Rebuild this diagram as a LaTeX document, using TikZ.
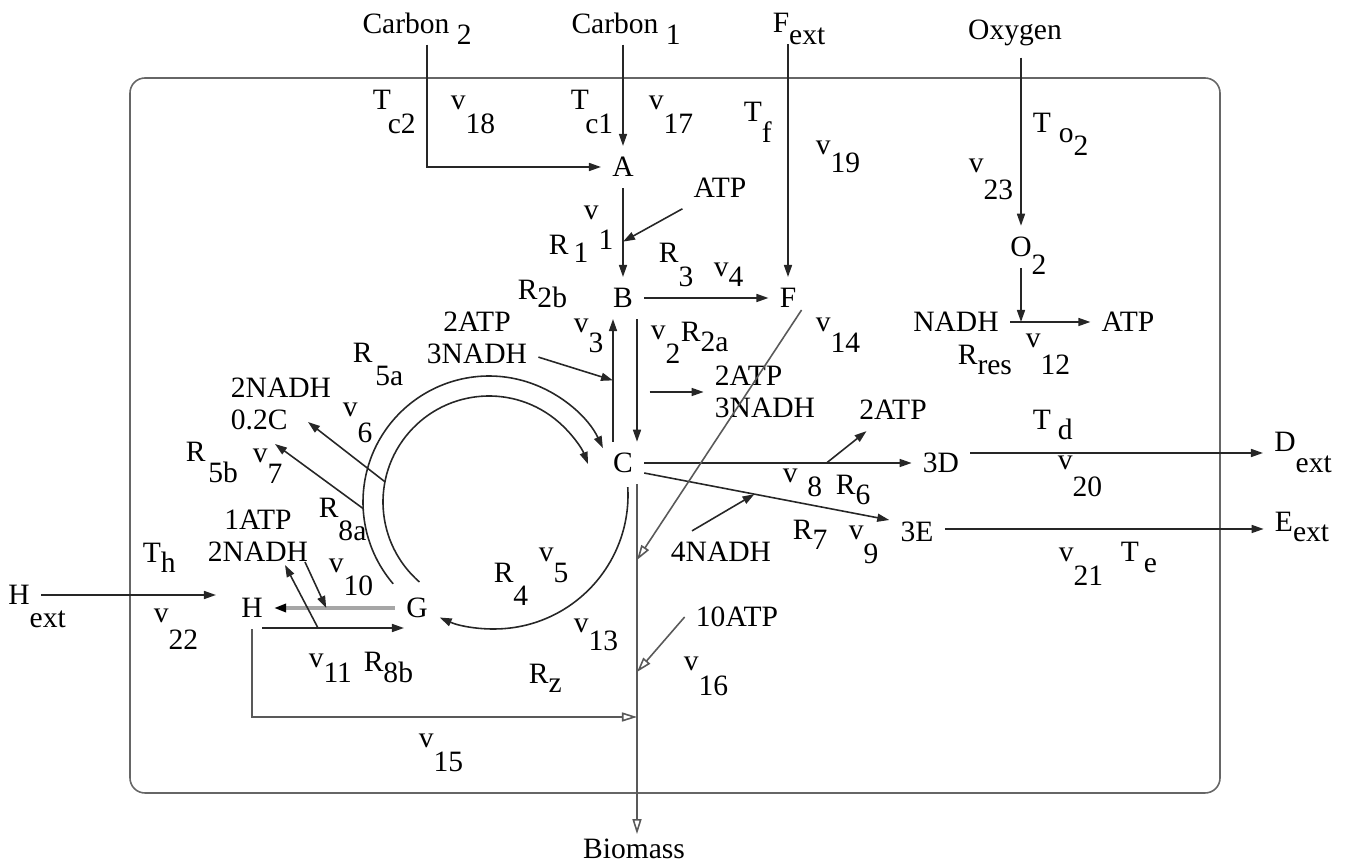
\documentclass[tikz,border=0pt]{standalone}
\usepackage{fontspec}
\setmainfont{Liberation Serif}
\usetikzlibrary{arrows.meta,calc}
\newcommand{\dn}[4][0em]{#2\kern#1\raisebox{-#3em}{#4}}
\newcommand{\msub}[2]{\rlap{\raisebox{-#1em}[0pt][0pt]{#2}}}
\tikzset{
  met/.style={inner sep=3pt},
  lbl/.style={anchor=base west,inner sep=0pt},
  flow/.style={->,draw=black!85},
  feed/.style={-{Triangle[open,length=1.5mm,width=.9mm]},draw=black!65},
}
\begin{document}
\begin{tikzpicture}[x=.01cm,y=-.01cm,>={Triangle[length=1.2mm,width=.8mm]},line width=.45pt,font=\fontsize{8.4}{9.1}\selectfont]
\useasboundingbox (0,0) rectangle (1348,864);
\draw[black!60,rounded corners=1.5mm] (130,78) rectangle (1220,793);
\node[met] (carbon2) at (406,23) {Carbon\msub{.4}{\ 2}};
\node[met] (carbon1) at (615,23) {Carbon\msub{.4}{\ 1}};
\node[met] (Fext) at (781,23) {F\msub{.4}{ext}};
\node[met,anchor=base] (oxygen) at (1015,40) {Oxygen};
\node[met] (A) at (623,167) {A};
\node[met] (B) at (623,298) {B};
\node[met] (C) at (623,463) {C};
\node[met] (F) at (788,298) {F};
\node[met] (G) at (417,608) {G};
\node[met] (H) at (252,608) {H};
\node[met] (O2) at (1021,247) {O\msub{.6}{2}};
\node[met] (nadhO) at (956,322) {NADH};
\node[met] (atpO) at (1128,322) {ATP};
\node[met] (D3) at (941,463) {3D};
\node[met] (E3) at (917,532) {3E};
\node[met] (Dext) at (1285,442) {D\msub{.7}{ext}};
\node[met] (Eext) at (1284,522) {E\msub{.33}{ext}};
\node[met] (Hext) at (19,595) {H\msub{.78}{ext}};
\node[met] (atpA) at (720,188) {ATP};
\node[met,align=center] (cof3) at (477,338) {2ATP\\3NADH};
\node[met,align=left] (cof2) at (765,392) {2ATP\\3NADH};
\node[met,align=left] (nadhC) at (281,404) {2NADH\\0.2C};
\node[met,align=center] (cofH) at (258,536) {1ATP\\2NADH};
\node[met] (atpD) at (893,410) {2ATP};
\node[met] (nadhE) at (721,552) {4NADH};
\node[met] (atp10) at (737,617) {10ATP};
\node[inner sep=1pt,anchor=base] (biomass) at (634,858) {Biomass};
\coordinate (ring) at (489,502);
\coordinate (ringR) at (494,495);
\coordinate (cb) at ($(C.south)+(14,0)$);
\coordinate (zF) at (637,560);
\coordinate (zATP) at (637,672);
\coordinate (zH) at (637,717);
\coordinate (ce1) at ([yshift=-.1cm]C.east);
\coordinate (ce2) at ([yshift=.12cm]E3.west);
\coordinate (gh) at ($(H)!.45!(G)$);
\coordinate (hg) at ($(H)!.4!(G)+(0,20)$);
\draw[flow] ([xshift=.21cm]carbon2.south) |- (A);
\draw[flow] (carbon1.south -| A) -- (A);
\draw[flow] (Fext.south -| F) -- (F);
\draw[flow] (oxygen.south -| O2) -- (O2);
\draw[flow] (O2) -- (O2 |- nadhO);
\draw[flow] (nadhO) -- (atpO);
\draw[flow] (A) -- (B);
\draw[flow] (atpA) -- ($(A)!.57!(B)$);
\draw[flow] (B) -- (F);
\draw[flow] ([xshift=.14cm]B.south) -- ([xshift=.14cm]C.north);
\draw[flow] ([xshift=-.1cm]C.north) -- ([xshift=-.1cm]B.south);
\draw[flow] (cof3) -- ($(C.north)!.5!(B.south)+(-10,0)$);
\draw[flow] ([xshift=-.54cm]cof2.west) -- (cof2.west);
\draw[flow] ([shift={(131:106)}]ring) arc[start angle=131,end angle=339,radius=106];
\draw[flow] ([shift={(139.5:126)}]ring) arc[start angle=139.5,end angle=334.7,radius=126];
\draw[flow] ([shift={(-3.4:134)}]ringR) arc[start angle=-3.4,end angle=113.9,radius=134];
\draw[flow] ([shift={(191:106)}]ring) -- ($(nadhC)+(27,18)$);
\draw[flow] ([shift={(177:126)}]ring) -- ($(nadhC)+(-6,40)$);
\draw[flow] (C) -- (D3);
\draw[flow] ($(C)!.64!(D3)$) -- (atpD);
\draw[flow] (ce1) -- (ce2);
\draw[flow] ([xshift=-.29cm]nadhE.north) -- ($(ce1)!.45!(ce2)$);
\draw[flow] ([yshift=.1cm]D3.east) -- ([yshift=.1cm]D3.east -| Dext.west);
\draw[flow] ([yshift=.03cm]E3.east) -- ([yshift=.03cm]E3.east -| Eext.west);
\draw[flow] (Hext) -- ([xshift=-.14cm]H.west |- Hext);
\draw[flow,draw=gray!70,line width=1.1pt,-{Triangle[length=1.2mm,width=.8mm,black]}] (G) -- (H);
\draw[flow] ($(H.east)+(-12,20)$) -- ($(G.west)+(9,20)$);
\draw[flow] ($(cofH)+(47,26)$) -- (gh);
\draw[flow] (hg) -- ($(cofH)+(27,29)$);
\draw[feed] (cb) -- (cb |- biomass.north);
\draw[feed] ($(F.south east)+(-6,-9)$) -- (zF);
\draw[feed] (atp10.west) -- (zATP);
\draw[feed] (H.south) |- (zH);
\node[lbl] (tc2) at (372,110) {\dn[-.1em]{T}{.78}{c2}};
\node[lbl] (v18) at (450,110) {\dn{v}{.78}{18}};
\node[lbl] (tc1) at (570,110) {\dn[-.12em]{T}{.78}{c1}};
\node[lbl] (v17) at (648,110) {\dn{v}{.78}{17}};
\node[lbl] (tf) at (743,122) {\dn{T}{.7}{f}};
\node[lbl] (v19) at (815,155) {\dn{v}{.6}{19}};
\node[lbl] (to2) at (1032,133) {T\kern.27em\raisebox{-.33em}{o}\raisebox{-.75em}{2}};
\node[lbl] (v23) at (968,173) {\dn{v}{.9}{23}};
\node[lbl] (v1) at (583,220) {\dn{v}{1}{1}};
\node[lbl] (r1) at (548,255) {\dn[.17em]{R}{.27}{1}};
\node[lbl] (r3) at (658,263) {\dn{R}{.8}{3}};
\node[lbl] (v4) at (713,277) {\dn{v}{.33}{4}};
\node[lbl] (r2b) at (517,300) {\dn{R}{.27}{2b}};
\node[lbl] (v3) at (573,333) {\dn{v}{.65}{3}};
\node[lbl] (v2) at (650,340) {\dn{v}{.78}{2}};
\node[lbl] (r2a) at (680,342) {\dn{R}{.33}{2a}};
\node[lbl] (v14) at (815,332) {\dn{v}{.68}{14}};
\node[lbl] (r5a) at (352,363) {\dn[.1em]{R}{.75}{5a}};
\node[lbl] (v6) at (342,417) {\dn{v}{.85}{6}};
\node[lbl] (r5b) at (185,462) {\dn[.1em]{R}{.7}{5b}};
\node[lbl] (v7) at (252,463) {\dn{v}{.68}{7}};
\node[lbl] (r8a) at (318,518) {\dn{R}{.75}{8a}};
\node[lbl] (th) at (142,563) {\dn{T}{.33}{h}};
\node[lbl] (v10) at (328,573) {\dn{v}{.75}{10}};
\node[lbl] (v22) at (153,623) {\dn{v}{.9}{22}};
\node[lbl] (v11) at (308,668) {\dn{v}{.5}{11}};
\node[lbl] (r8b) at (363,672) {\dn{R}{.37}{8b}};
\node[lbl] (r4) at (493,583) {\dn{R}{.75}{4}};
\node[lbl] (v5) at (538,562) {\dn{v}{.7}{5}};
\node[lbl] (v13) at (573,633) {\dn{v}{.58}{13}};
\node[lbl] (rz) at (528,683) {\dn{R}{.33}{z}};
\node[lbl] (v16) at (683,670) {\dn{v}{.85}{16}};
\node[lbl] (v15) at (418,748) {\dn{v}{.8}{15}};
\node[lbl] (v8) at (782,483) {\dn[.33em]{v}{.47}{8}};
\node[lbl] (r6) at (835,495) {\dn{R}{.33}{6}};
\node[lbl] (r7) at (792,540) {\dn{R}{.33}{7}};
\node[lbl] (v9) at (848,540) {\dn{v}{.78}{9}};
\node[lbl] (rres) at (957,365) {\dn{R}{.33}{res}};
\node[lbl] (v12) at (1025,348) {\dn{v}{.9}{12}};
\node[lbl] (td) at (1032,430) {\dn[.24em]{T}{.33}{d}};
\node[lbl] (v20) at (1057,470) {\dn{v}{.9}{20}};
\node[lbl] (te) at (1120,562) {\dn[.17em]{T}{.37}{e}};
\node[lbl] (v21) at (1058,562) {\dn{v}{.78}{21}};
\end{tikzpicture}
\end{document}
